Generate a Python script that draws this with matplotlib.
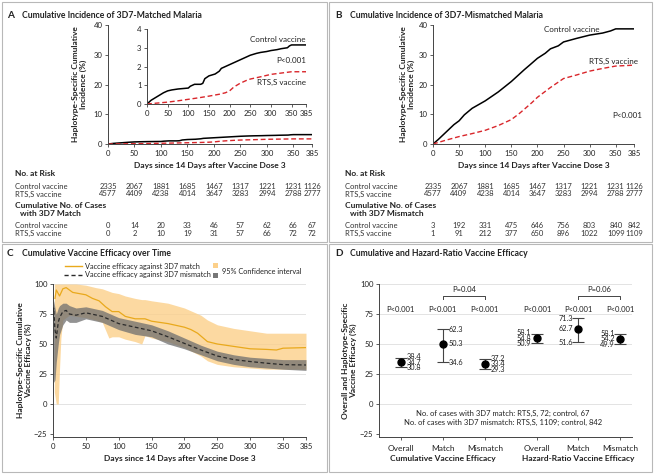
import numpy as np
import matplotlib.pyplot as plt
from matplotlib.patches import Rectangle
import matplotlib.transforms as mtransforms

plt.rcParams['font.family'] = ['Lato', 'DejaVu Sans']
plt.rcParams['axes.linewidth'] = 0.7

W, H = 654, 474

# ---- data ----
day_ticks = [0, 50, 100, 150, 200, 250, 300, 350, 385]

# A: 3D7-matched cumulative incidence (%)
a_ctrl_days = [0, 10, 25, 40, 50, 60, 75, 100, 105, 115, 130, 135, 140, 150, 165, 175, 180,
               200, 215, 225, 240, 250, 265, 275, 290, 300, 315, 325, 340, 345, 350, 385]
a_ctrl = [0, 0.2, 0.4, 0.6, 0.7, 0.75, 0.8, 0.85, 0.95, 1.05, 1.05, 1.1, 1.35, 1.5, 1.6, 1.75, 1.9,
          2.1, 2.25, 2.35, 2.5, 2.6, 2.7, 2.75, 2.8, 2.85, 2.9, 2.95, 3.0, 3.1, 3.15, 3.15]
a_rts_days = [0, 25, 50, 75, 100, 125, 150, 175, 190, 200, 210, 225, 240, 250, 275, 300, 325, 350, 385]
a_rts = [0, 0.05, 0.1, 0.17, 0.25, 0.33, 0.42, 0.52, 0.6, 0.7, 0.9, 1.1, 1.25, 1.33, 1.45, 1.58,
         1.65, 1.72, 1.72]

# B: 3D7-mismatched cumulative incidence (%)
b_ctrl_days = [0, 10, 25, 40, 50, 60, 75, 100, 125, 150, 175, 185, 200, 215, 225, 240, 250,
               275, 300, 325, 340, 350, 385]
b_ctrl = [0, 1.5, 4, 6.5, 7.8, 9.8, 12, 14.5, 17.5, 21, 25, 26.5, 28.8, 30.5, 32, 33, 34.3,
          35.5, 36.6, 37.3, 38, 38.7, 38.7]
b_rts_days = [0, 25, 50, 75, 100, 125, 150, 165, 175, 190, 200, 225, 250, 275, 300, 325, 350, 385]
b_rts = [0, 1.3, 2.5, 3.5, 4.6, 6.2, 8.2, 10.2, 11.7, 14, 15.7, 19, 22, 23.2, 24.5, 25.4, 26.2, 26.5]

# risk tables
ctrl_risk = [2335, 2067, 1881, 1685, 1467, 1317, 1221, 1231, 1126]
rts_risk = [4577, 4409, 4238, 4014, 3647, 3283, 2994, 2788, 2777]
match_ctrl_cases = [0, 14, 20, 33, 46, 57, 62, 66, 67]
match_rts_cases = [0, 2, 10, 19, 31, 57, 66, 72, 72]
mis_ctrl_cases = [3, 192, 331, 475, 646, 756, 803, 840, 842]
mis_rts_cases = [1, 91, 212, 377, 650, 896, 1022, 1099, 1109]

# C: cumulative vaccine efficacy over time (%)
c_match_days = [3, 5, 8, 10, 15, 20, 25, 30, 40, 50, 60, 70, 80, 90, 100, 110, 125, 140, 150,
                175, 200, 210, 220, 235, 250, 275, 300, 325, 340, 350, 385]
c_match = [88, 95, 92, 90, 96, 97, 95, 93, 92, 91, 88, 86, 81, 77, 77, 73, 71, 71, 69,
           67, 64, 62, 59, 52, 50, 48, 46, 45.5, 45, 46.5, 47]
c_match_ci_days = [2, 5, 8, 10, 12, 15, 20, 25, 35, 50, 65, 75, 85, 90, 100, 110, 125, 135, 140,
                   150, 175, 200, 225, 235, 250, 275, 300, 325, 350, 385]
c_match_hi = [100, 100, 100, 100, 100, 100, 100, 100, 100, 99, 97, 96, 94, 93, 92, 90, 88, 87, 87,
              86, 84, 80, 74, 70, 66, 63, 61, 59, 59, 59]
c_match_lo = [10, 0, 0, 30, 55, 70, 72, 74, 73, 72, 70, 68, 55, 56, 56, 54, 52, 50, 57,
              55, 52, 47, 40, 36, 33, 31, 30, 29, 29, 29]
c_mis_days = [0, 1, 3, 5, 8, 10, 15, 20, 25, 35, 50, 75, 100, 125, 150, 175, 200, 225, 250,
              275, 300, 325, 350, 385]
c_mis = [72, 80, 62, 55, 68, 72, 77, 78, 75, 74, 76, 73, 67, 64, 61, 56, 50.5, 45, 40,
         37, 35.4, 34, 32.8, 32.5]
c_mis_hi = [85, 86, 80, 75, 80, 82, 84, 84, 82, 80, 81, 78, 72, 69, 66, 61, 55, 49, 44,
            41, 39, 38, 37, 37]
c_mis_lo = [40, 18, 20, 35, 50, 58, 66, 70, 68, 68, 71, 68, 62, 58, 56, 50, 46, 41, 36,
            33, 31, 30, 29, 28]

# D: cumulative and hazard-ratio vaccine efficacy (%)
d_labels = ['Overall', 'Match', 'Mismatch', 'Overall', 'Match', 'Mismatch']
d_est = [34.7, 50.3, 33.4, 54.8, 62.7, 54.2]
d_lo = [30.8, 34.6, 29.3, 50.9, 51.6, 49.9]
d_hi = [38.4, 62.3, 37.2, 58.1, 71.3, 58.1]
d_pvals = ['P<0.001'] * 6
d_pos = [1, 2, 3, 4.24, 5.22, 6.22]

RED = '#d9262b'
ORANGE = '#e9a91c'
TXT = '#222222'
FS = 5.5


def rect(x0, y0, x1, y1):
    return [x0 / W, 1 - y1 / H, (x1 - x0) / W, (y1 - y0) / H]


def fy(y):
    return 1 - y / H


def fx(x):
    return x / W


def style(ax):
    for s in ['top', 'right']:
        ax.spines[s].set_visible(False)
    for s in ['left', 'bottom']:
        ax.spines[s].set_color('#444444')
    ax.tick_params(length=2.5, width=0.6, labelsize=5.6, colors='#444444',
                   labelcolor=TXT, pad=1.5)


def ylabel_at(ax, text, x_px):
    # x_px is the right edge of the rotated label block
    pos = ax.get_position()
    ax.set_ylabel(text, fontsize=6.0, fontweight='bold', color=TXT, linespacing=1.1)
    ax.yaxis.set_label_coords((x_px / W - pos.x0) / pos.width, 0.5)


fig = plt.figure(figsize=(W / 100, H / 100), dpi=100)
fig.patch.set_facecolor('white')

# panel frames
for x0, y0, x1, y1 in [(2, 2, 327, 242), (329, 2, 652, 242), (2, 244, 327, 472), (329, 244, 652, 472)]:
    fig.add_artist(Rectangle((fx(x0), fy(y1)), (x1 - x0) / W, (y1 - y0) / H,
                             transform=fig.transFigure, fill=False, ec='#b8b8b8', lw=0.8))

# titles
title_kw = dict(fontsize=6.2, fontweight='bold', color=TXT, va='center')
letter_kw = dict(fontsize=7.2, fontweight='bold', color=TXT, va='center')
fig.text(fx(7), fy(15), 'A', **letter_kw)
fig.text(fx(22), fy(15), 'Cumulative Incidence of 3D7-Matched Malaria', **title_kw)
fig.text(fx(335), fy(15), 'B', **letter_kw)
fig.text(fx(350), fy(15), 'Cumulative Incidence of 3D7-Mismatched Malaria', **title_kw)
fig.text(fx(7), fy(253), 'C', **letter_kw)
fig.text(fx(22), fy(253), 'Cumulative Vaccine Efficacy over Time', **title_kw)
fig.text(fx(335), fy(253), 'D', **letter_kw)
fig.text(fx(350), fy(253), 'Cumulative and Hazard-Ratio Vaccine Efficacy', **title_kw)


def incidence_axes(x0, x1, label_x, ctrl_d, ctrl, rts_d, rts):
    ax = fig.add_axes(rect(x0, 25, x1, 144))
    ax.plot(ctrl_d, ctrl, color='black', lw=1.1)
    ax.plot(rts_d, rts, color=RED, lw=1.0, dashes=(3.5, 2))
    ax.set_xlim(0, 385)
    ax.set_ylim(0, 40)
    ax.set_xticks(day_ticks)
    ax.set_yticks([0, 10, 20, 30, 40])
    style(ax)
    ylabel_at(ax, 'Haplotype-Specific Cumulative\nIncidence (%)', label_x)
    return ax


def risk_table(ax, label_x, cases_title, cc, rc):
    tr = mtransforms.blended_transform_factory(ax.transData, fig.transFigure)
    pos = ax.get_position()
    fig.text((pos.x0 + pos.x1) / 2, fy(165),
             'Days since 14 Days after Vaccine Dose 3', ha='center', va='center',
             fontsize=6.0, fontweight='bold', color=TXT)
    fig.text(fx(label_x), fy(174), 'No. at Risk', fontsize=6.0, fontweight='bold', color=TXT, va='center')
    fig.text(fx(label_x), fy(206), 'Cumulative No. of Cases', fontsize=6.0, fontweight='bold',
             color=TXT, va='center')
    fig.text(fx(label_x + 5), fy(213.5), cases_title, fontsize=6.0, fontweight='bold', color=TXT, va='center')
    rows = [(186.5, 'Control vaccine', ctrl_risk), (194, 'RTS,S vaccine', rts_risk),
            (225.5, 'Control vaccine', cc), (233, 'RTS,S vaccine', rc)]
    for y, name, vals in rows:
        fig.text(fx(label_x), fy(y), name, fontsize=FS, color='#333333', va='center')
        for d, v in zip(day_ticks, vals):
            ax.text(d, fy(y), str(v), transform=tr, fontsize=FS, color='#333333',
                    ha='center', va='center')


# ---- Panel A ----
axA = incidence_axes(108, 312, 87, a_ctrl_days, a_ctrl, a_rts_days, a_rts)
insA = fig.add_axes(rect(147, 29, 306, 104))
insA.plot(a_ctrl_days, a_ctrl, color='black', lw=1.1)
insA.plot(a_rts_days, a_rts, color=RED, lw=1.0, dashes=(3.5, 2))
insA.set_xlim(0, 385)
insA.set_ylim(0, 4)
insA.set_xticks(day_ticks)
insA.set_yticks([0, 1, 2, 3, 4])
insA.patch.set_alpha(0)
style(insA)
insA.text(385, 3.45, 'Control vaccine', ha='right', va='center', fontsize=5.8, color=TXT)
insA.text(385, 2.3, 'P<0.001', ha='right', va='center', fontsize=5.8, color=TXT)
insA.text(385, 1.15, 'RTS,S vaccine', ha='right', va='center', fontsize=5.8, color=TXT)
risk_table(axA, 15, 'with 3D7 Match', match_ctrl_cases, match_rts_cases)

# ---- Panel B ----
axB = incidence_axes(433, 634, 415, b_ctrl_days, b_ctrl, b_rts_days, b_rts)
axB.text(266, 38.4, 'Control vaccine', ha='center', va='center', fontsize=5.8, color=TXT)
axB.text(345, 27.6, 'RTS,S vaccine', ha='center', va='center', fontsize=5.8, color=TXT)
axB.text(372, 9.7, 'P<0.001', ha='center', va='center', fontsize=5.8, color=TXT)
risk_table(axB, 345, 'with 3D7 Mismatch', mis_ctrl_cases, mis_rts_cases)

# ---- Panel C ----
axC = fig.add_axes(rect(53, 284, 306, 437))
for g in [0, 25, 50, 75, 100]:
    axC.axhline(g, color='#e3e3e3', lw=0.7, zorder=0)
axC.fill_between(c_match_ci_days, c_match_lo, c_match_hi, color='#fcd08a', alpha=0.8, lw=0, zorder=1)
axC.fill_between(c_mis_days, c_mis_lo, c_mis_hi, color='#6f6f6f', alpha=0.75, lw=0, zorder=2)
axC.plot(c_match_days, c_match, color=ORANGE, lw=0.9, zorder=3)
axC.plot(c_mis_days, c_mis, color='#2a2a2a', lw=0.9, dashes=(3, 2), zorder=4)
axC.set_xlim(0, 385)
axC.set_ylim(-27.5, 100)
axC.set_xticks(day_ticks)
axC.set_yticks([-25, 0, 25, 50, 75, 100])
style(axC)
axC.set_xlabel('Days since 14 Days after Vaccine Dose 3', fontsize=6.0, fontweight='bold',
               color=TXT, labelpad=4)
ylabel_at(axC, 'Haplotype-Specific Cumulative\nVaccine Efficacy (%)', 32)
# legend
fig.add_artist(plt.Line2D([fx(65), fx(82)], [fy(266), fy(266)], color=ORANGE, lw=1.0,
                          transform=fig.transFigure))
fig.add_artist(plt.Line2D([fx(64), fx(82)], [fy(274.5), fy(274.5)], color='#2a2a2a', lw=1.0,
                          dashes=(3, 2), transform=fig.transFigure))
fig.text(fx(85), fy(266), 'Vaccine efficacy against 3D7 match', fontsize=5.3, color=TXT, va='center')
fig.text(fx(85), fy(274.5), 'Vaccine efficacy against 3D7 mismatch', fontsize=5.3, color=TXT, va='center')
fig.add_artist(Rectangle((fx(213), fy(268)), 5 / W, 5 / H, transform=fig.transFigure,
                         color='#fcd08a', lw=0))
fig.add_artist(Rectangle((fx(213), fy(278)), 5 / W, 5 / H, transform=fig.transFigure,
                         color='#777777', lw=0))
fig.text(fx(222), fy(271.5), '95% Confidence interval', fontsize=5.3, color=TXT, va='center')

# ---- Panel D ----
axD = fig.add_axes(rect(379, 284, 632, 437))
for g in [0, 25, 50, 75, 100]:
    axD.axhline(g, color='#e3e3e3', lw=0.7, zorder=0)
axD.errorbar(d_pos, d_est,
             yerr=[np.array(d_est) - np.array(d_lo), np.array(d_hi) - np.array(d_est)],
             fmt='o', color='black', ms=5, ecolor='#444444', elinewidth=0.8,
             capsize=4, capthick=0.8, zorder=3)
for i, (p, e, lo, hi) in enumerate(zip(d_pos, d_est, d_lo, d_hi)):
    top = max(hi, e + 4.6)
    bot = min(lo, e - 4.6)
    if i < 3:
        x, ha = p + 0.13, 'left'
    else:
        x, ha = p - 0.13, 'right'
    for y, v in [(top, hi), (e, e), (bot, lo)]:
        axD.text(x, y, f'{v:.1f}', ha=ha, va='center', fontsize=5.3, color=TXT)
    axD.text(p, 79, d_pvals[i], ha='center', va='center', fontsize=FS, color=TXT)
for a, b, lab in [(d_pos[1], d_pos[2], 'P=0.04'), (d_pos[4], d_pos[5], 'P=0.06')]:
    axD.plot([a, a, b, b], [87.5, 90, 90, 87.5], color='#444444', lw=0.7)
    axD.text((a + b) / 2, 95.5, lab, ha='center', va='center', fontsize=FS, color=TXT)
axD.text(3.43, -7.5, 'No. of cases with 3D7 match: RTS,S, 72; control, 67',
         ha='center', va='center', fontsize=FS, color=TXT)
axD.text(3.43, -15, 'No. of cases with 3D7 mismatch: RTS,S, 1109; control, 842',
         ha='center', va='center', fontsize=FS, color=TXT)
axD.set_xlim(0.48, 6.5)
axD.set_ylim(-27.5, 100)
axD.set_xticks(d_pos)
axD.set_xticklabels(d_labels)
axD.set_yticks([-25, 0, 25, 50, 75, 100])
style(axD)
axD.tick_params(axis='x', labelsize=6.0, pad=3)
ylabel_at(axD, 'Overall and Haplotype-Specific\nVaccine Efficacy (%)', 357)
trD = mtransforms.blended_transform_factory(axD.transData, fig.transFigure)
axD.text(2, fy(459), 'Cumulative Vaccine Efficacy', transform=trD, ha='center', va='center',
         fontsize=6.0, fontweight='bold', color=TXT)
axD.text(5.22, fy(459), 'Hazard-Ratio Vaccine Efficacy', transform=trD, ha='center', va='center',
         fontsize=6.0, fontweight='bold', color=TXT)

fig.savefig('out.png', dpi=100, facecolor='white')
